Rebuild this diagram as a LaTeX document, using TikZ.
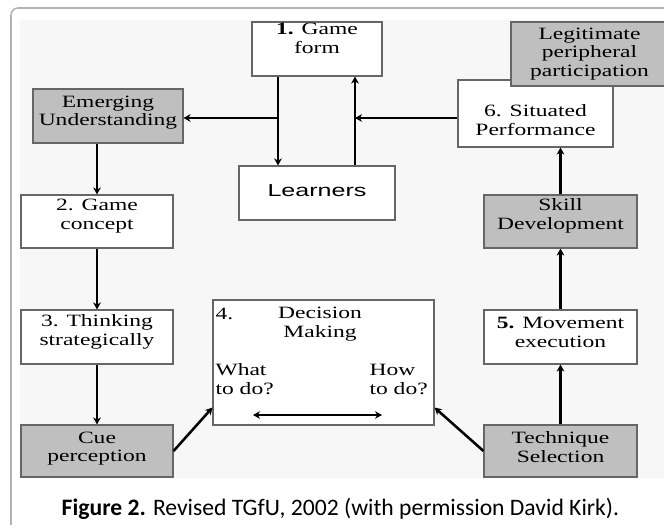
\documentclass[tikz,border=0pt]{standalone}
\usepackage{fontspec}
\setmainfont[FakeStretch=1.36]{Liberation Serif}
\newfontfamily\learnersfont[FakeStretch=1.45]{Liberation Sans}
\newfontfamily\captionfont{Carlito}
\usetikzlibrary{arrows.meta}

\begin{document}
\begin{tikzpicture}[line width=0.8pt,>={Stealth[length=5pt,width=5.5pt]},
  box/.style={draw=black!60,fill=white,align=center,inner sep=0pt,
    font=\fontsize{12.3}{13.4}\selectfont},
  shaded/.style={box,fill=black!25},
  flow/.style={line width=1.8pt,->},
  lbl/.style={inner sep=0pt,font=\fontsize{12.3}{13.4}\selectfont}]
\useasboundingbox (0,0) rectangle (16.6,13.1);
\clip (0,0) rectangle (16.6,13.1);
% frame and figure area
\draw[black!30,line width=1.1pt,rounded corners=5pt] (0.275,12.9) rectangle (17.2,-0.6);
\fill[black!3] (0.5,12.6) rectangle (16.6,1.15);
% left column
\node[shaded,minimum width=3.75cm,minimum height=1.35cm,text depth=0.26cm] (emerging) at (2.7,10.2) {Emerging\\Understanding};
\node[box,minimum width=3.8cm,minimum height=1.325cm,text depth=0.38cm] (concept) at (2.425,7.5625) {2. Game\\concept};
\node[box,minimum width=3.8cm,minimum height=1.35cm,text depth=0.36cm] (thinking) at (2.425,4.675) {3. Thinking\\strategically};
\node[shaded,minimum width=3.8cm,minimum height=1.3cm,text depth=0.21cm] (cue) at (2.425,1.825) {Cue\\perception};
% centre
\node[box,minimum width=3.25cm,minimum height=1.35cm,text depth=0.55cm] (gameform) at (7.925,11.875) {\textbf{1.} Game\\form};
\node[box,minimum width=3.9cm,minimum height=1.35cm,text height=0.3cm,text depth=0.1cm,font=\learnersfont\fontsize{12.3}{13.4}\selectfont] (learners) at (7.925,8.275) {Learners};
\node[box,minimum width=5.525cm,minimum height=3.125cm] (decision) at (8.0875,4.0375) {};
\node[lbl,anchor=base west] (dnum) at (5.375,5.125) {4.};
\node[lbl,anchor=base,align=center] (dtitle) at (8.0,4.675) {Decision\\Making};
\node[lbl,anchor=base west,align=left] (what) at (5.375,3.25) {What\\to do?};
\node[lbl,anchor=base west,align=left] (how) at (9.225,3.25) {How\\to do?};
\coordinate (dl) at (6.325,2.725);
\coordinate (dr) at (9.55,2.725);
% right column
\node[box,minimum width=3.875cm,minimum height=1.675cm,text height=1.08cm,text depth=0cm] (situated) at (13.3875,10.2625) {6. Situated\\Performance};
\node[shaded,minimum width=3.925cm,minimum height=1.6cm] (legit) at (14.7375,11.75) {Legitimate\\peripheral\\participation};
\node[shaded,minimum width=3.825cm,minimum height=1.325cm,text depth=0.38cm] (skill) at (14.0125,7.5625) {Skill\\Development};
\node[box,minimum width=3.825cm,minimum height=1.35cm,text depth=0.25cm] (movement) at (14.0125,4.675) {\textbf{5.} Movement\\execution};
\node[shaded,minimum width=3.825cm,minimum height=1.3cm,text depth=0.2cm] (technique) at (14.0125,1.825) {Technique\\Selection};
% connectors
\coordinate (jl) at (6.95,10.15);
\coordinate (jr) at (8.875,10.15);
\draw[flow] (jl |- gameform.south) -- (jl |- learners.north);
\draw[flow] (jl) -- (jl -| emerging.east);
\draw[flow] (jr |- learners.north) -- (jr |- gameform.south);
\draw[flow] (situated.west |- jr) -- (jr);
\draw[flow] (concept.north |- emerging.south) -- (concept.north);
\draw[flow] (concept.south) -- (thinking.north);
\draw[flow] (thinking.south) -- (cue.north);
\draw[flow] (cue.east) -- ([yshift=0.45cm]decision.south west);
\draw[flow] (technique.west) -- ([yshift=0.45cm]decision.south east);
\draw[flow] (technique.north) -- (movement.south);
\draw[flow] (movement.north) -- (skill.south);
\draw[flow] (skill.north) -- (skill.north |- situated.south);
\draw[flow,<->] (dl) -- (dr);
% caption
\node[font=\captionfont\fontsize{16.8}{19}\selectfont,anchor=base] (caption) at (8.51,0.225) {\textbf{Figure 2.} Revised TGfU, 2002 (with permission David Kirk).};
\end{tikzpicture}
\end{document}
